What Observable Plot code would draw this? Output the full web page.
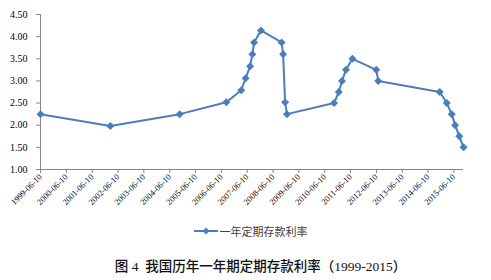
<!DOCTYPE html>
<html><head><meta charset="utf-8">
<script src="https://cdn.jsdelivr.net/npm/d3@7"></script>
<script src="https://cdn.jsdelivr.net/npm/@observablehq/plot@0.6"></script>
<style>
body{margin:0;background:#fff;width:491px;height:280px;overflow:hidden;}
#legend{position:absolute;left:0;top:222px;width:491px;height:18px;display:flex;justify-content:center;align-items:center;font-family:"Noto Sans CJK SC",sans-serif;font-size:11px;color:#404040;padding-left:10px;box-sizing:border-box;}
#caption{position:absolute;left:0;top:255px;width:491px;text-align:center;font-family:"Liberation Serif","Noto Sans CJK SC",serif;font-size:13.5px;font-weight:500;color:#111;padding-left:30px;box-sizing:border-box;white-space:pre;}
</style></head>
<body>
<div id="chart"></div>
<div id="legend"><svg width="24" height="10" style="margin-right:2px"><line x1="0" y1="5" x2="24" y2="5" stroke="#4A7EBB" stroke-width="2"/><path d="M12,1.5L15.5,5L12,8.5L8.5,5Z" fill="#4A7EBB"/></svg><span>一年定期存款利率</span></div>
<div id="caption">图 4  我国历年一年期定期存款利率（1999-2015）</div>
<script>
const dates = ["1999-06-10","2002-02-21","2004-10-29","2006-08-19","2007-03-18","2007-05-19","2007-07-21","2007-08-22","2007-09-15","2007-12-21","2008-10-09","2008-10-30","2008-11-27","2008-12-23","2010-10-20","2010-12-26","2011-02-09","2011-04-06","2011-07-07","2012-06-08","2012-07-06","2014-11-22","2015-03-01","2015-05-11","2015-06-28","2015-08-26","2015-10-24"];
const rates = [2.25,1.98,2.25,2.52,2.79,3.06,3.33,3.60,3.87,4.14,3.87,3.60,2.52,2.25,2.50,2.75,3.00,3.25,3.50,3.25,3.00,2.75,2.50,2.25,2.00,1.75,1.50];
const xTickLabels = ["1999-06-10","2000-06-10","2001-06-10","2002-06-10","2003-06-10","2004-06-10","2005-06-10","2006-06-10","2007-06-10","2008-06-10","2009-06-10","2010-06-10","2011-06-10","2012-06-10","2013-06-10","2014-06-10","2015-06-10"];
const yTicks = [1.00,1.50,2.00,2.50,3.00,3.50,4.00,4.50];
const seriesName = "一年定期存款利率";

const parse = d3.utcParse("%Y-%m-%d");
const fmt = d3.utcFormat("%Y-%m-%d");
const data = dates.map((d,i)=>({date:parse(d), rate:rates[i], series:seriesName}));
const color = "#4A7EBB";

const chart = Plot.plot({
  width:491, height:212,
  marginLeft:40, marginRight:28, marginTop:14, marginBottom:43,
  style:{fontFamily:"'Liberation Serif',serif", fontSize:"10px", color:"#000", background:"#fff"},
  x:{type:"utc", domain:[parse("1999-06-10"), parse("2015-10-24")], label:null},
  y:{domain:[1,4.5], label:null},
  marks:[
    Plot.axisY({ticks:yTicks, tickFormat:d=>d.toFixed(2), tickSize:4, tickPadding:9, stroke:"#868686", fontSize:10, fill:"#000"}),
    Plot.axisX({ticks:xTickLabels.map(parse), tickFormat:fmt, tickRotate:-45, tickSize:4, tickPadding:2, stroke:"#868686", fontSize:8.5, fill:"#000"}),
    Plot.ruleX([parse("1999-06-10")], {y1:1, y2:4.5, stroke:"#868686"}),
    Plot.ruleY([1], {stroke:"#868686"}),
    Plot.line(data, {x:"date", y:"rate", stroke:color, strokeWidth:2}),
    Plot.dot(data, {x:"date", y:"rate", symbol:"diamond2", r:3.6, fill:color, stroke:null})
  ]
});
document.getElementById("chart").appendChild(chart);
</script>
</body></html>
